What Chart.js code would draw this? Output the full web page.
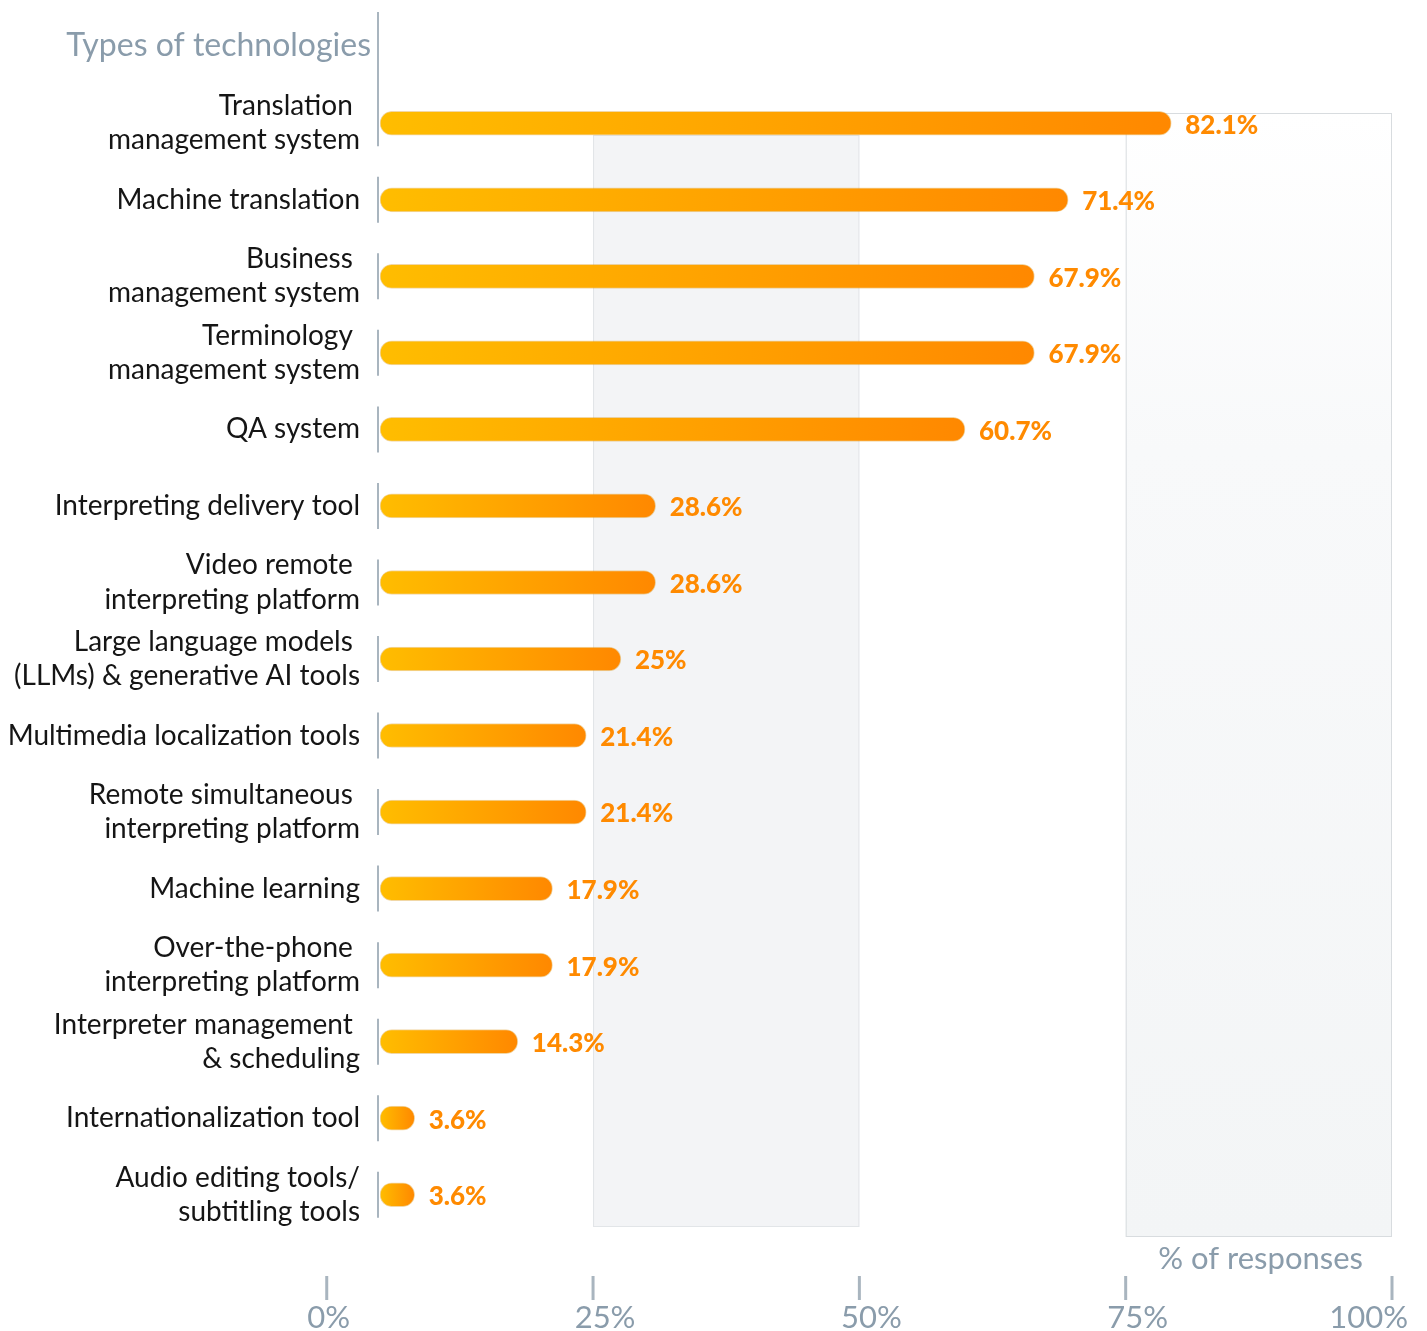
<!DOCTYPE html>
<html>
<head>
<meta charset="utf-8">
<script src="https://cdn.jsdelivr.net/npm/chart.js@4.4.1/dist/chart.umd.min.js"></script>
<style>
  html, body { margin: 0; padding: 0; background: #fff; }
  #wrap { width: 1427px; height: 1331px; }
</style>
</head>
<body>
<div id="wrap"><canvas id="techChart"></canvas></div>
<script>
const categories = [
    ['Translation ', 'management system'],
    'Machine translation',
    ['Business ', 'management system'],
    ['Terminology ', 'management system'],
    'QA system',
    'Interpreting delivery tool',
    ['Video remote ', 'interpreting platform'],
    ['Large language models ', '(LLMs) & generative AI tools'],
    'Multimedia localization tools',
    ['Remote simultaneous ', 'interpreting platform'],
    'Machine learning',
    ['Over-the-phone ', 'interpreting platform'],
    ['Interpreter management ', '& scheduling'],
    'Internationalization tool',
    ['Audio editing tools/', 'subtitling tools']
];
const responses = [82.1, 71.4, 67.9, 67.9, 60.7, 28.6, 28.6, 25, 21.4, 21.4, 17.9, 17.9, 14.3, 3.6, 3.6];
const axisTicks = [0, 25, 50, 75, 100];
const shadedBands = [25, 50, 75, 100];   // pairs: [from, to]

const GREY = '#8a9cab';
const LINE = '#a9b5bf';

function barGradient(ctx) {
    const chart = ctx.chart;
    if (!chart.chartArea || ctx.type !== 'data') return '#ffa600';
    const xs = chart.scales.xb;
    const x0 = xs.getPixelForValue(0);
    const x1 = xs.getPixelForValue(ctx.raw);
    const g = chart.ctx.createLinearGradient(x0, 0, x1, 0);
    g.addColorStop(0, '#ffbd00');
    g.addColorStop(1, '#ff8800');
    return g;
}

// shaded bands + separator marks behind the bars
const backdrop = {
    id: 'backdrop',
    beforeDatasetsDraw(chart) {
        const { ctx, chartArea, scales } = chart;
        const x = scales.x, y = scales.y;
        ctx.save();
        // 25-50 band
        let l = x.getPixelForValue(shadedBands[0]), r = x.getPixelForValue(shadedBands[1]);
        let t = chartArea.top + 50, b = chartArea.bottom - 6;
        ctx.fillStyle = '#f3f4f6';
        ctx.fillRect(l, t, r - l, b - t);
        ctx.strokeStyle = '#e2e5e8';
        ctx.lineWidth = 1;
        ctx.strokeRect(l + 0.5, t + 0.5, r - l - 1, b - t - 1);
        // 75-100 band
        l = x.getPixelForValue(shadedBands[2]); r = x.getPixelForValue(shadedBands[3]);
        t = chartArea.top + 28; b = chartArea.bottom + 4;
        const g = ctx.createLinearGradient(0, t, 0, b);
        g.addColorStop(0, '#ffffff');
        g.addColorStop(0.3, '#f8f9fa');
        g.addColorStop(1, '#f3f5f6');
        ctx.fillStyle = g;
        ctx.fillRect(l, t, r - l, b - t);
        ctx.strokeStyle = '#d8dcdf';
        ctx.strokeRect(l + 0.5, t + 0.5, r - l - 1, b - t - 1);

        // little vertical separators next to each label
        ctx.strokeStyle = LINE;
        ctx.lineWidth = 2;
        const sx = chartArea.left - 2;
        categories.forEach((c, i) => {
            const cy = y.getPixelForValue(i);
            ctx.beginPath();
            ctx.moveTo(sx, i === 0 ? 12 : cy - 23);
            ctx.lineTo(sx, cy + 23);
            ctx.stroke();
        });
        ctx.restore();
    }
};

const overlay = {
    id: 'overlay',
    afterDatasetsDraw(chart) {
        const { ctx } = chart;
        const meta = chart.getDatasetMeta(0);
        ctx.save();
        ctx.fillStyle = '#ff8a00';
        ctx.font = '900 26px Lato';
        ctx.textAlign = 'left';
        ctx.textBaseline = 'middle';
        meta.data.forEach((bar, i) => {
            ctx.fillText(responses[i] + '%', bar.x + 14, bar.y + 2);
        });
        ctx.restore();
    },
    afterDraw(chart) {
        const { ctx, scales } = chart;
        const x = scales.x;
        ctx.save();
        ctx.fillStyle = GREY;
        ctx.textBaseline = 'middle';
        ctx.textAlign = 'right';
        ctx.font = '32px Lato';
        ctx.fillText('Types of technologies', 371, 46);
        ctx.font = '31px Lato';
        ctx.fillText('% of responses', 1363, 1259);

        ctx.strokeStyle = LINE;
        ctx.lineWidth = 3;
        axisTicks.forEach((v, i) => {
            const px = x.getPixelForValue(v);
            ctx.beginPath();
            ctx.moveTo(px, 1276);
            ctx.lineTo(px, 1300);
            ctx.stroke();
            if (i === axisTicks.length - 1) {
                ctx.textAlign = 'right';
                ctx.fillText(v + '%', 1408, 1318);
            } else {
                ctx.textAlign = 'center';
                ctx.fillText(v + '%', px + (i === 0 ? 2 : 12), 1318);
            }
        });
        ctx.restore();
    }
};

document.addEventListener('DOMContentLoaded', function() {
    const ctx = document.getElementById('techChart').getContext('2d');

    new Chart(ctx, {
        type: 'bar',
        data: {
            labels: categories,
            datasets: [{
                label: '% of responses',
                data: responses,
                xAxisID: 'xb',
                backgroundColor: barGradient,
                borderColor: 'rgba(214, 140, 0, 0.35)',
                borderWidth: 1,
                borderRadius: 12,
                borderSkipped: false,
                barThickness: 24
            }]
        },
        options: {
            indexAxis: 'y',
            responsive: true,
            maintainAspectRatio: false,
            animation: false,
            layout: {
                padding: { left: 0, right: 35, top: 85, bottom: 98 }
            },
            plugins: {
                legend: { display: false },
                tooltip: { enabled: false }
            },
            scales: {
                xb: {
                    type: 'linear',
                    axis: 'x',
                    position: 'bottom',
                    min: 0,
                    max: 105,
                    display: false
                },
                x: {
                    type: 'linear',
                    position: 'bottom',
                    min: 5,
                    max: 100,
                    display: false
                },
                y: {
                    type: 'category',
                    grid: { display: false },
                    border: { display: false },
                    ticks: {
                        color: '#151515',
                        padding: 12,
                        font: { family: 'Lato', size: 28, lineHeight: 1.22 }
                    },
                    afterFit(scale) {
                        scale.width = 380;
                    }
                }
            }
        },
        plugins: [backdrop, overlay]
    });
});
</script>
</body>
</html>
